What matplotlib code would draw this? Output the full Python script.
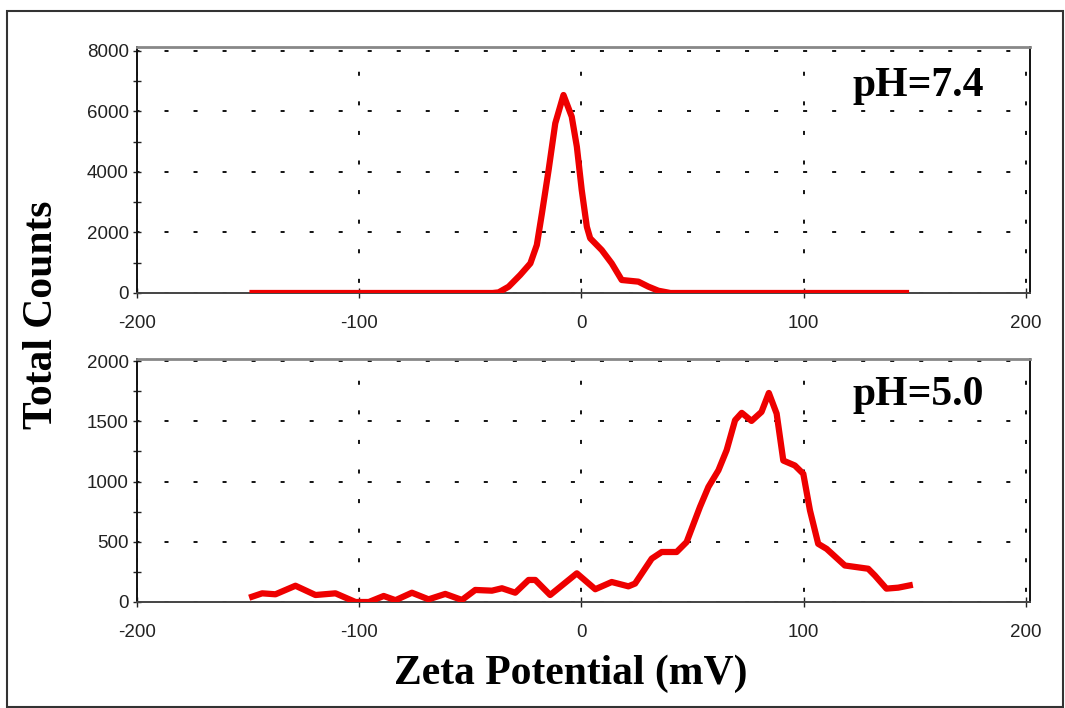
import matplotlib
import numpy as np

matplotlib.use("Agg")
import matplotlib.pyplot as plt
from matplotlib.patches import Rectangle

plt.rcParams["lines.scale_dashes"] = False
plt.rcParams["axes.unicode_minus"] = False

# pH 7.4 distribution
zeta_74 = [-148, -120, -90, -60, -40, -37.3, -32.8, -27.6, -23.0, -20.1, -17.8, -14.8,
           -11.8, -8.1, -4.4, -2.1, 0.1, 2.4, 3.9, 9.1, 13.6, 18.1, 25.6, 30.1, 34.6,
           40, 60, 90, 120, 146]
counts_74 = [0, 0, 0, 0, 0, 20, 208, 595, 980, 1587, 2635, 4066,
             5610, 6545, 5830, 4840, 3405, 2190, 1810, 1420, 980, 430, 375, 210, 75,
             0, 0, 0, 0, 0]

# pH 5.0 distribution
zeta_50 = [-148.2, -143.7, -137.7, -128.7, -119.7, -110.7, -101.7, -95.7, -89.0, -83.7,
           -76.3, -68.8, -61.3, -53.8, -47.8, -40.3, -35.8, -29.8, -23.8, -20.8,
           -14.1, -2.1, 6.2, 13.6, 21.1, 24.1, 31.6, 36.1, 42.8, 47.3,
           53.3, 57.1, 61.6, 65.3, 69.1, 72.1, 76.5, 81.0, 84.3, 87.8,
           90.8, 96.0, 99.8, 102.8, 106.5, 110.3, 118.5, 129.0, 132.0, 137.2,
           142.5, 147.7]
counts_50 = [44, 72, 64, 135, 58, 72, 0, 0, 50, 15,
             77, 22, 67, 17, 100, 94, 114, 77, 183, 183,
             58, 238, 106, 166, 130, 153, 360, 415, 415, 498,
             789, 955, 1093, 1260, 1509, 1570, 1503, 1578, 1735, 1564,
             1174, 1133, 1064, 760, 483, 441, 303, 276, 220, 111,
             119, 138]

x_ticks = [-200, -100, 0, 100, 200]

W, H = 1065, 708
fig = plt.figure(figsize=(W / 100, H / 100), dpi=100)
fig.patch.set_facecolor("white")

# frame around the whole picture
fig.add_artist(Rectangle((7 / W, 1 - 707 / H), 1056 / W, 696 / H, transform=fig.transFigure,
                         fill=False, edgecolor="#333333", linewidth=1.5))


def px_axes(left, top, right, bottom):
    return fig.add_axes([left / W, 1 - bottom / H, (right - left) / W, (bottom - top) / H])


ax1 = px_axes(137, 47, 1030, 293)
ax2 = px_axes(137, 359, 1030, 602)

panels = [
    (ax1, zeta_74, counts_74, 8132, [0, 2000, 4000, 6000, 8000], "pH=7.4", 86),
    (ax2, zeta_50, counts_50, 2017, [0, 500, 1000, 1500, 2000], "pH=5.0", 395),
]

for ax, xs, ys, ytop, yt, label, ly in panels:
    ax.plot(xs, ys, color="#ee0000", linewidth=4.5, solid_joinstyle="round", zorder=3)
    ax.set_xlim(-200, 201.8)
    ax.set_ylim(0, ytop)
    ax.set_xticks(x_ticks)
    ax.set_yticks(yt)
    ax.set_yticks([(a + b) / 2 for a, b in zip(yt[:-1], yt[1:])], minor=True)

    ax.grid(True, axis="y", color="black", linewidth=1.3, linestyle=(1.1, (2.9, 18.0)))
    ax.grid(True, axis="x", color="black", linewidth=1.3, linestyle=(14.0, (2.9, 18.4)))

    ax.spines["left"].set_color("#111111")
    ax.spines["left"].set_linewidth(1.4)
    ax.spines["right"].set_color("#111111")
    ax.spines["right"].set_linewidth(1.4)
    ax.spines["bottom"].set_color("#444444")
    ax.spines["bottom"].set_linewidth(1.4)
    ax.spines["top"].set_color("#888888")
    ax.spines["top"].set_linewidth(2.0)

    ax.tick_params(axis="both", which="both", direction="inout", color="#222222",
                   labelcolor="#222222", labelsize=13.5)
    ax.tick_params(axis="y", which="major", length=6, width=1, pad=3)
    ax.tick_params(axis="y", which="minor", length=6, width=1)
    ax.tick_params(axis="x", which="major", length=7, width=1, pad=12)
    for t in ax.get_xticklabels() + ax.get_yticklabels():
        t.set_fontfamily("Liberation Sans")

    fig.text(918 / W, 1 - ly / H, label, ha="center", va="center",
             fontfamily="Liberation Serif", fontweight="bold", fontsize=30)

fig.text(42 / W, 1 - 315 / H, "Total Counts", rotation=90, ha="center", va="center",
         fontfamily="Liberation Serif", fontweight="bold", fontsize=30)
fig.text(571 / W, 1 - 674 / H, "Zeta Potential (mV)", ha="center", va="center",
         fontfamily="Liberation Serif", fontweight="bold", fontsize=30)

fig.savefig("out.png", dpi=100)
